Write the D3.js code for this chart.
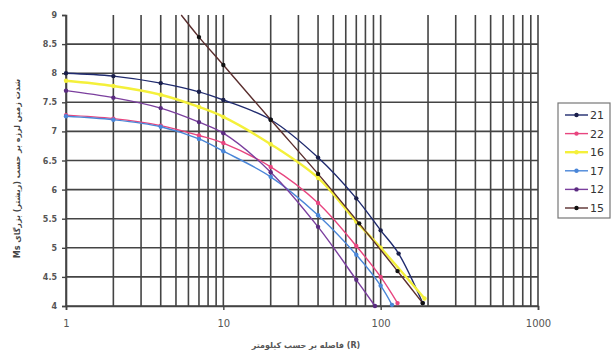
<!DOCTYPE html>
<html>
<head>
<meta charset="utf-8">
<script src="https://cdn.jsdelivr.net/npm/d3@7"></script>
<style>
  body { margin: 0; background: #fff; }
  text { font-family: "DejaVu Sans", "Noto Sans", sans-serif; }
</style>
</head>
<body>
<div id="chart"></div>
<script>
// data
var names = ["21", "22", "16", "17", "12", "15"];
var colors = ["#1f2a6e", "#e8457f", "#f4f03a", "#4a86d8", "#7b3f9e", "#5a2e2e"];
var markerColors = ["#1a1f4a", "#e8457f", "#f4f03a", "#4a86d8", "#5a2b80", "#111111"];

var x21 = [1, 2, 4, 7, 10, 20, 40, 70, 100, 130, 185];
var y21 = [8.0, 7.95, 7.83, 7.68, 7.54, 7.2, 6.55, 5.85, 5.3, 4.9, 4.05];
var x22 = [1, 2, 4, 7, 10, 20, 40, 70, 100, 128];
var y22 = [7.28, 7.22, 7.1, 6.93, 6.8, 6.39, 5.77, 5.03, 4.5, 4.05];
var x16 = [1, 2, 4, 7, 10, 20, 40, 70, 100, 190];
var y16 = [7.87, 7.78, 7.63, 7.42, 7.25, 6.78, 6.2, 5.45, 5.0, 4.13];
var x17 = [1, 2, 4, 7, 10, 20, 40, 70, 100, 118];
var y17 = [7.26, 7.2, 7.08, 6.87, 6.66, 6.22, 5.56, 4.88, 4.35, 4.02];
var x12 = [1, 2, 4, 7, 10, 20, 40, 70, 92];
var y12 = [7.7, 7.58, 7.4, 7.16, 6.97, 6.3, 5.36, 4.45, 4.0];
var x15 = [5.4, 7, 10, 20, 40, 73, 128, 185];
var y15 = [9.0, 8.62, 8.14, 7.2, 6.27, 5.42, 4.6, 4.05];

var xs = [x21, x22, x16, x17, x12, x15];
var ys = [y21, y22, y16, y17, y12, y15];

var yTicks = [4, 4.5, 5, 5.5, 6, 6.5, 7, 7.5, 8, 8.5, 9];
var xTicks = [1, 10, 100, 1000];

var xTitle = "فاصله بر حسب کیلومتر (R)";
var yTitle = "Ms شدت زمین لرزه بر حسب (ریشتر) بزرگای";

var margin = {top: 15, right: 77, bottom: 48, left: 66},
  width = 615 - margin.left - margin.right,
  height = 354 - margin.top - margin.bottom;

var svg = d3.select("#chart")
  .append("svg")
    .attr("width", 615)
    .attr("height", 354)
  .append("g")
    .attr("transform", "translate(" + margin.left + "," + margin.top + ")");

var x = d3.scaleLog().domain([1, 1000]).range([0, width]);
var y = d3.scaleLinear().domain([4, 9]).range([height, 0]);

// vertical log grid
var vgrid = [];
[1, 10, 100].forEach(function(d) {
  for (var k = 1; k <= 9; k++) vgrid.push(d * k);
});
vgrid.push(1000);

svg.selectAll(".vg")
  .data(vgrid)
  .enter()
  .append("line")
    .attr("x1", function(d) { return x(d); })
    .attr("x2", function(d) { return x(d); })
    .attr("y1", 0)
    .attr("y2", height)
    .style("stroke", "#444")
    .style("stroke-width", 1.6);

svg.selectAll(".hg")
  .data(yTicks.filter(function(d) { return d < 9; }))
  .enter()
  .append("line")
    .attr("x1", 0)
    .attr("x2", width)
    .attr("y1", function(d) { return y(d); })
    .attr("y2", function(d) { return y(d); })
    .style("stroke", "#444")
    .style("stroke-width", 1.6);

// axes
var yAxis = svg.append("g")
  .call(d3.axisLeft(y).tickValues(yTicks).tickSize(4).tickFormat(d3.format("")));
var xAxis = svg.append("g")
  .attr("transform", "translate(0," + height + ")")
  .call(d3.axisBottom(x).tickValues(xTicks).tickSize(4).tickFormat(d3.format("d")));

[xAxis, yAxis].forEach(function(a) {
  a.select(".domain").style("stroke", "#444").style("stroke-width", 1.6);
  a.selectAll(".tick line").style("stroke", "#444").style("stroke-width", 1.4);
  a.selectAll("text").style("fill", "#555").style("font-weight", "bold");
});
yAxis.selectAll("text").style("font-size", "8px").attr("x", -9);
xAxis.selectAll("text").style("font-size", "10px").style("font-weight", "normal").attr("y", 14);

// series
var line = d3.line()
  .x(function(d) { return x(d[0]); })
  .y(function(d) { return y(d[1]); })
  .curve(d3.curveCatmullRom.alpha(0.5));

names.forEach(function(n, i) {
  var pts = xs[i].map(function(v, j) { return [v, ys[i][j]]; });
  svg.append("path")
    .datum(pts)
    .attr("d", line)
    .style("fill", "none")
    .style("stroke", colors[i])
    .style("stroke-width", i == 2 ? 2.4 : 1.4);
  svg.selectAll(".m" + i)
    .data(pts.filter(function(d) { return d[1] < 9; }))
    .enter()
    .append("circle")
      .attr("cx", function(d) { return x(d[0]); })
      .attr("cy", function(d) { return y(d[1]); })
      .attr("r", 2.2)
      .style("fill", markerColors[i]);
});

// axis titles
svg.append("text")
  .attr("x", width / 2 + 4)
  .attr("y", height + 42)
  .attr("text-anchor", "middle")
  .style("font-size", "8px")
  .style("font-weight", "bold")
  .style("fill", "#555")
  .text(xTitle);

svg.append("text")
  .attr("transform", "translate(-46," + (height / 2 + 8) + ") rotate(-90)")
  .attr("text-anchor", "middle")
  .style("font-size", "8px")
  .style("font-weight", "bold")
  .style("fill", "#444")
  .text(yTitle);

// legend
var legend = d3.select("svg").append("g")
  .attr("transform", "translate(558,103)");
legend.append("rect")
  .attr("width", 52)
  .attr("height", 115)
  .style("fill", "#fff")
  .style("stroke", "#777")
  .style("stroke-width", 1.2);

names.forEach(function(n, i) {
  var ly = 12 + i * 18.6;
  legend.append("line")
    .attr("x1", 7).attr("x2", 30)
    .attr("y1", ly).attr("y2", ly)
    .style("stroke", colors[i])
    .style("stroke-width", i == 2 ? 2.4 : 1.4);
  legend.append("circle")
    .attr("cx", 18.5).attr("cy", ly).attr("r", 2.2)
    .style("fill", markerColors[i]);
  legend.append("text")
    .attr("x", 32).attr("y", ly + 4)
    .style("font-size", "11px")
    .style("fill", "#333")
    .text(n);
});
</script>
</body>
</html>
